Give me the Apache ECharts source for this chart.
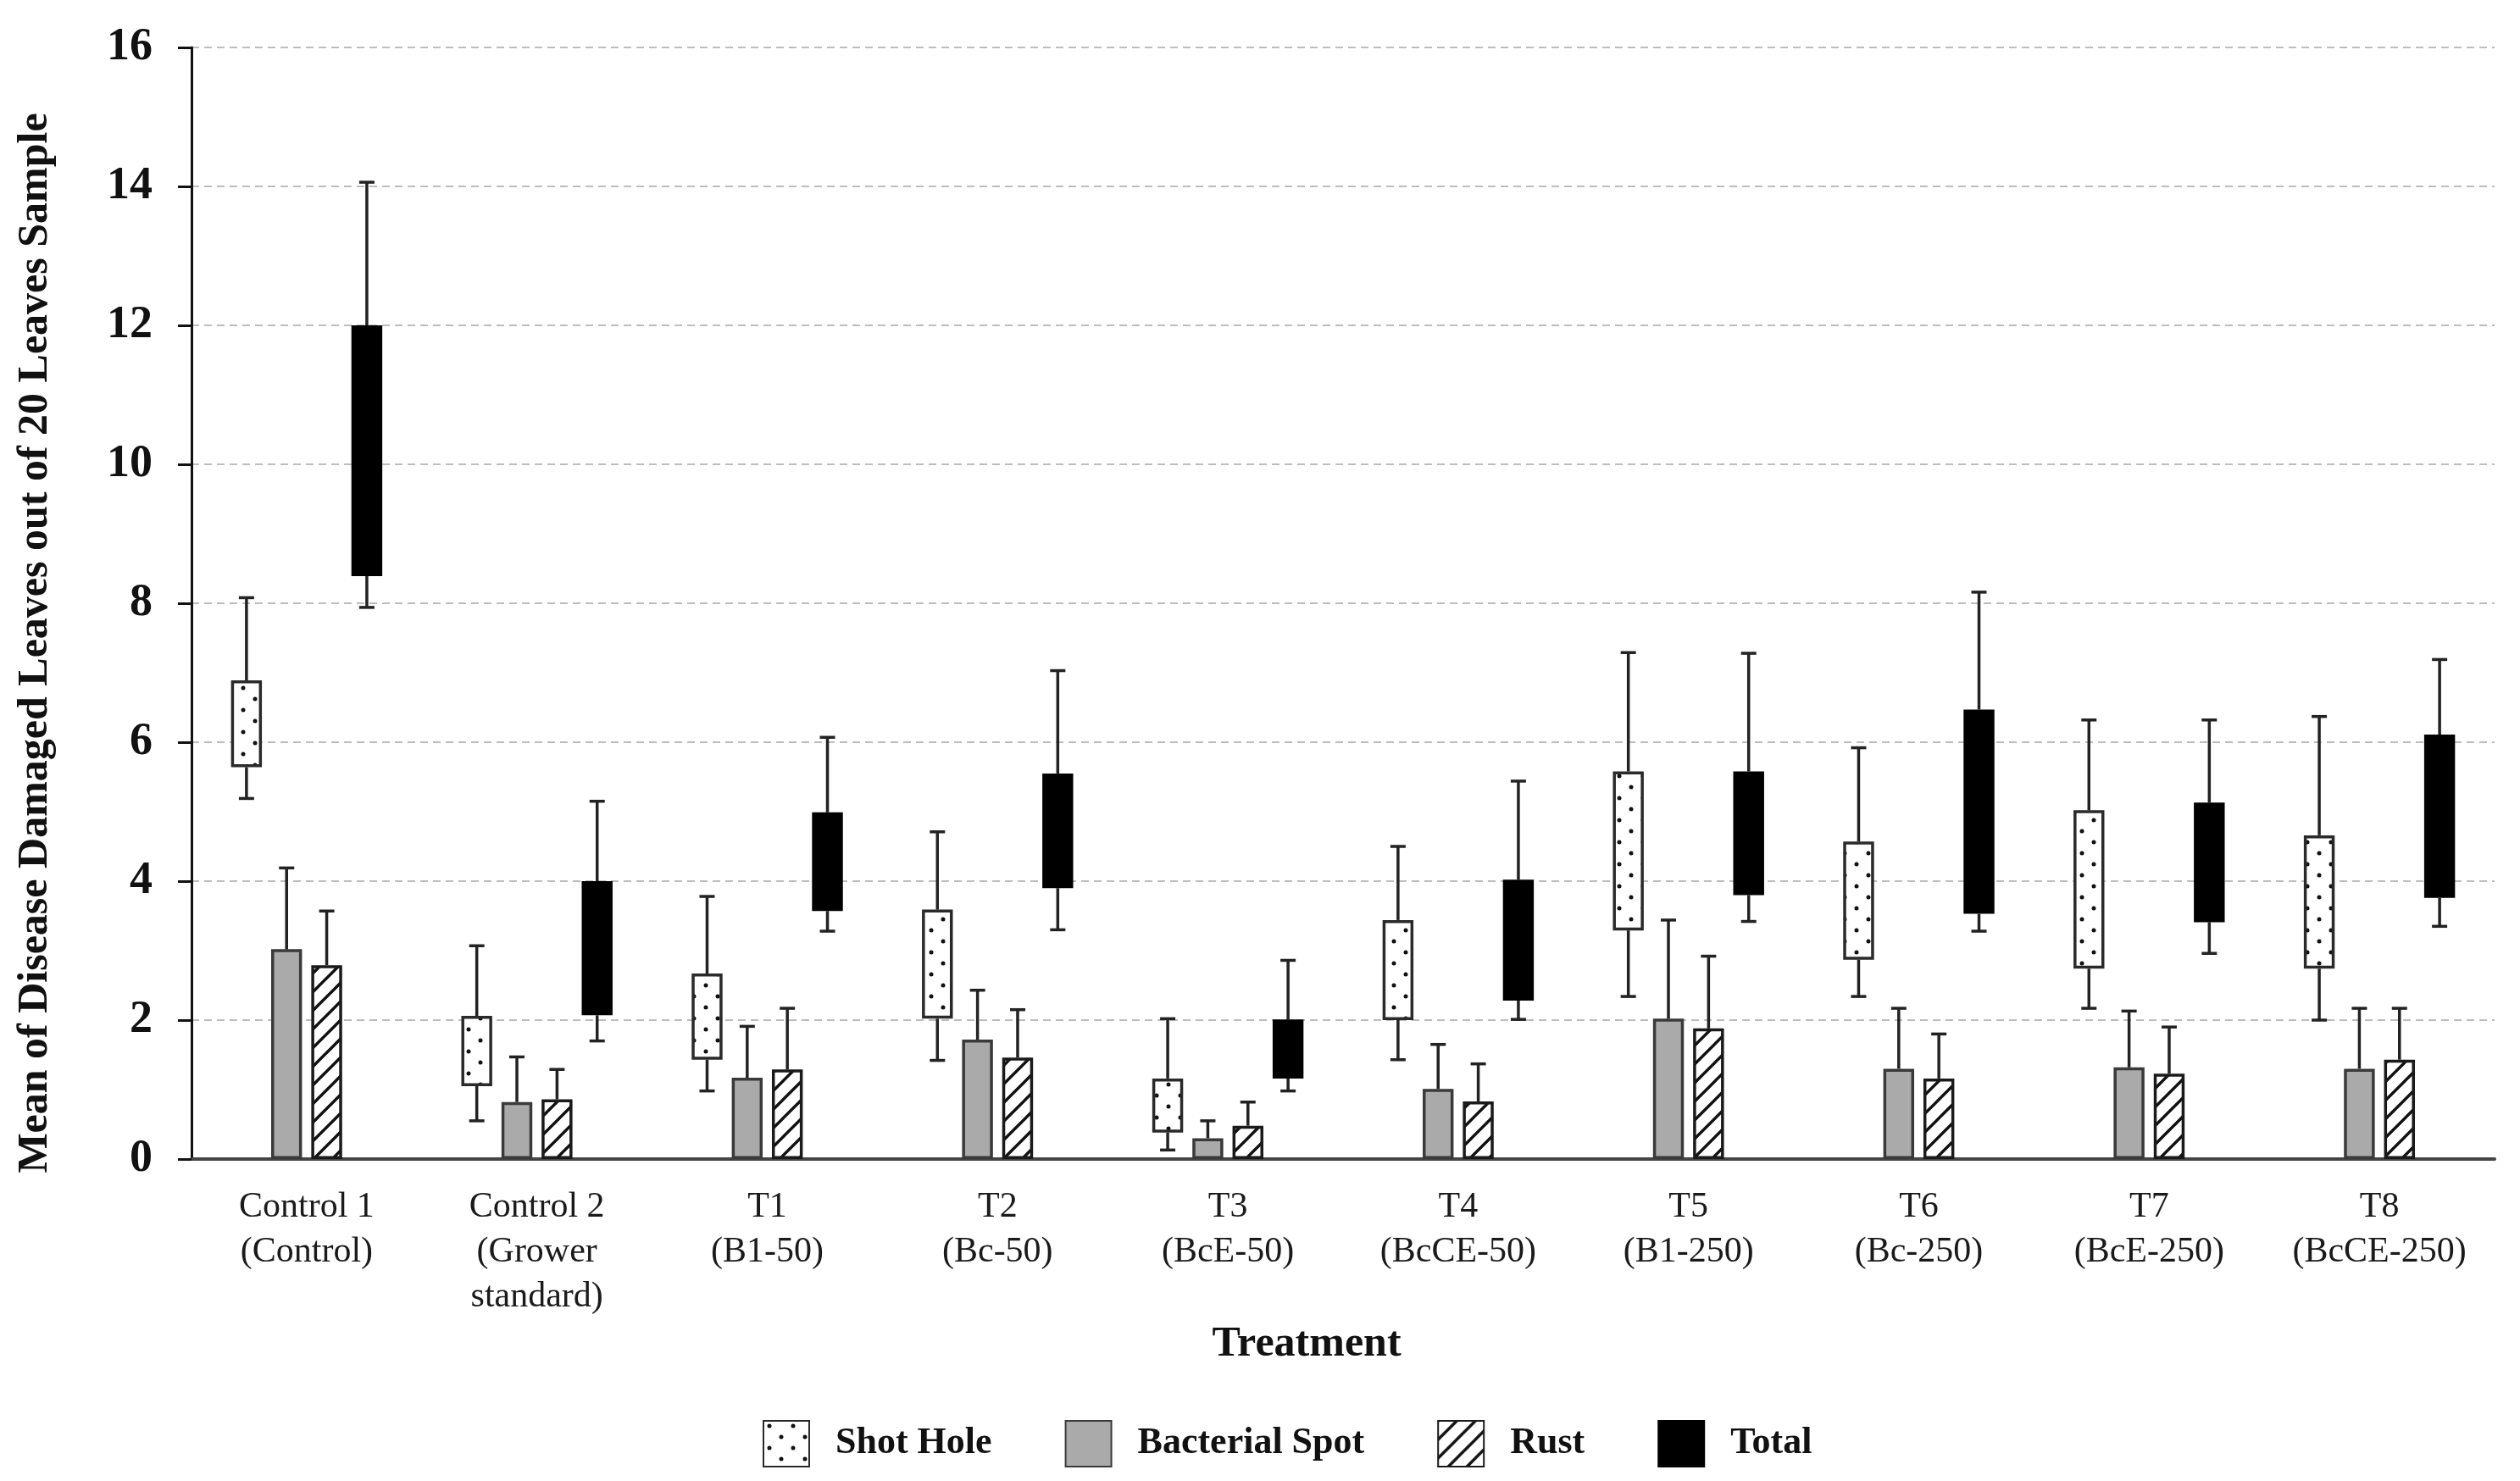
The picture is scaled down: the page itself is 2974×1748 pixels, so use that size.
<!DOCTYPE html>
<html>
<head>
<meta charset="utf-8">
<script src="https://cdn.jsdelivr.net/npm/echarts@6/dist/echarts.min.js"></script>
<style>
html,body{margin:0;padding:0;background:#fff;}
#chart{width:2974px;height:1748px;}
</style>
</head>
<body>
<div id="chart"></div>
<script>
var categories = ['Control 1\n(Control)', 'Control 2\n(Grower\nstandard)', 'T1\n(B1-50)', 'T2\n(Bc-50)', 'T3\n(BcE-50)', 'T4\n(BcCE-50)', 'T5\n(B1-250)', 'T6\n(Bc-250)', 'T7\n(BcE-250)', 'T8\n(BcCE-250)'];
var yTicks = [0, 2, 4, 6, 8, 10, 12, 14, 16];

var shotLow = [5.64, 1.05, 1.43, 2.02, 0.38, 2.00, 3.29, 2.87, 2.74, 2.74];
var shotHigh = [6.89, 2.06, 2.67, 3.59, 1.16, 3.44, 5.58, 4.57, 5.02, 4.66];
var shotWhiskerLow = [5.19, 0.55, 0.98, 1.42, 0.13, 1.43, 2.34, 2.34, 2.17, 2.00];
var shotWhiskerHigh = [8.08, 3.07, 3.78, 4.71, 2.02, 4.50, 7.29, 5.92, 6.32, 6.37];

var bact = [3.02, 0.82, 1.17, 1.72, 0.30, 1.01, 2.02, 1.30, 1.32, 1.30];
var bactWhiskerHigh = [4.19, 1.47, 1.91, 2.43, 0.55, 1.65, 3.44, 2.17, 2.13, 2.17];

var rust = [2.79, 0.86, 1.29, 1.46, 0.48, 0.83, 1.88, 1.16, 1.23, 1.43];
var rustWhiskerHigh = [3.57, 1.29, 2.17, 2.15, 0.82, 1.37, 2.92, 1.80, 1.90, 2.17];

var totalLow = [8.39, 2.07, 3.57, 3.90, 1.16, 2.28, 3.80, 3.53, 3.41, 3.76];
var totalHigh = [12.00, 4.00, 4.99, 5.55, 2.01, 4.02, 5.58, 6.47, 5.13, 6.11];
var totalWhiskerLow = [7.94, 1.70, 3.28, 3.30, 0.98, 2.01, 3.42, 3.28, 2.96, 3.35];
var totalWhiskerHigh = [14.06, 5.15, 6.07, 7.03, 2.86, 5.44, 7.28, 8.16, 6.32, 7.19];

var FONT = "'Liberation Serif', 'Times New Roman', serif";
var BAR_W_RATIO = 0.134;
var BAR_GAP_RATIO = 0.30;
var NCOL = 4;

function makeDots() {
  var c = document.createElement('canvas');
  c.width = 28; c.height = 26;
  var g = c.getContext('2d');
  g.fillStyle = '#ffffff'; g.fillRect(0, 0, 28, 26);
  g.fillStyle = '#111111';
  g.beginPath(); g.arc(7, 6, 2.5, 0, Math.PI * 2); g.fill();
  g.beginPath(); g.arc(21, 19, 2.5, 0, Math.PI * 2); g.fill();
  return c;
}
function makeHatch() {
  var s = 22;
  var c = document.createElement('canvas');
  c.width = s; c.height = s;
  var g = c.getContext('2d');
  g.fillStyle = '#ffffff'; g.fillRect(0, 0, s, s);
  g.strokeStyle = '#111111'; g.lineWidth = 3.4;
  g.beginPath();
  g.moveTo(-2, s + 2); g.lineTo(s + 2, -2);
  g.moveTo(-s / 2 - 2, s / 2 + 2); g.lineTo(s / 2 + 2, -s / 2 - 2);
  g.moveTo(s / 2 - 2, s * 1.5 + 2); g.lineTo(s * 1.5 + 2, s / 2 - 2);
  g.stroke();
  return c;
}
var dotPattern = { image: makeDots(), repeat: 'repeat' };
var hatchPattern = { image: makeHatch(), repeat: 'repeat' };

function diff(a, b) { return a.map(function (v, i) { return +(v - b[i]).toFixed(3); }); }

function errorSeries(name, col, boxTop, upper, boxBottom, lower) {
  var data = categories.map(function (c, i) {
    return [i, boxTop[i], upper[i], boxBottom ? boxBottom[i] : boxTop[i], lower ? lower[i] : boxTop[i]];
  });
  return {
    name: name,
    type: 'custom',
    silent: true,
    z: 5,
    data: data,
    encode: { x: 0, y: [1, 2, 3, 4] },
    renderItem: function (params, api) {
      var ci = api.value(0);
      var band = api.size([1, 0])[0];
      var bw = band * BAR_W_RATIO;
      var gap = bw * BAR_GAP_RATIO;
      var off = (col - (NCOL - 1) / 2) * (bw + gap);
      var x = api.coord([ci, 0])[0] + off;
      var capHalf = 9;
      var yTop = api.coord([ci, api.value(1)])[1];
      var yUp = api.coord([ci, api.value(2)])[1];
      var yBot = api.coord([ci, api.value(3)])[1];
      var yLow = api.coord([ci, api.value(4)])[1];
      var st = { stroke: '#222222', lineWidth: 3.5 };
      var children = [
        { type: 'line', shape: { x1: x, y1: yTop, x2: x, y2: yUp }, style: st },
        { type: 'line', shape: { x1: x - capHalf, y1: yUp, x2: x + capHalf, y2: yUp }, style: st }
      ];
      if (yLow > yBot + 0.5) {
        children.push({ type: 'line', shape: { x1: x, y1: yBot, x2: x, y2: yLow }, style: st });
        children.push({ type: 'line', shape: { x1: x - capHalf, y1: yLow, x2: x + capHalf, y2: yLow }, style: st });
      }
      return { type: 'group', children: children };
    }
  };
}

var barCommon = {
  type: 'bar',
  barWidth: (BAR_W_RATIO * 100) + '%',
  barGap: (BAR_GAP_RATIO * 100) + '%',
  emphasis: { disabled: true }
};

var chart = echarts.init(document.getElementById('chart'), null, { renderer: 'canvas' });
var option = {
  backgroundColor: '#ffffff',
  animation: false,
  grid: { left: 226, right: 30, top: 56, bottom: 380, containLabel: false },
  legend: {
    data: ['Shot Hole', 'Bacterial Spot', 'Rust', 'Total'],
    left: 895,
    top: 1671,
    icon: 'rect',
    itemWidth: 54,
    itemHeight: 54,
    itemGap: 86,
    selectedMode: false,
    textStyle: { fontFamily: FONT, fontWeight: 'bold', fontSize: 44, color: '#111', padding: [0, 0, 0, 26] }
  },
  xAxis: {
    type: 'category',
    data: categories,
    name: 'Treatment',
    nameLocation: 'middle',
    nameGap: 190,
    nameTextStyle: { fontFamily: FONT, fontWeight: 'bold', fontSize: 50, color: '#111', padding: [0, 86, 0, 0] },
    axisLine: { lineStyle: { color: '#444', width: 4 } },
    axisTick: { show: false },
    axisLabel: { fontFamily: FONT, fontSize: 42, color: '#1a1a1a', lineHeight: 53, margin: 30, interval: 0 },
    splitLine: { show: false }
  },
  yAxis: {
    type: 'value',
    min: yTicks[0],
    max: yTicks[yTicks.length - 1],
    interval: yTicks[1] - yTicks[0],
    name: 'Mean of Disease Damaged Leaves out of 20 Leaves Sample',
    nameLocation: 'middle',
    nameGap: 159,
    nameTextStyle: { fontFamily: FONT, fontWeight: 'bold', fontSize: 50, color: '#111', padding: [0, 94, 0, 0] },
    axisLine: { show: true, lineStyle: { color: '#111', width: 3 } },
    axisTick: { show: true, length: 16, lineStyle: { color: '#111', width: 3 } },
    axisLabel: { fontFamily: FONT, fontWeight: 'bold', fontSize: 54, color: '#111', margin: 46 },
    splitLine: { show: true, lineStyle: { color: '#bdbdbd', width: 2, type: [9, 6] } }
  },
  series: [
    Object.assign({}, barCommon, {
      name: 'shotBase', stack: 'shot', silent: true, data: shotLow,
      itemStyle: { color: 'rgba(0,0,0,0)' }
    }),
    Object.assign({}, barCommon, {
      name: 'Shot Hole', stack: 'shot', data: diff(shotHigh, shotLow),
      itemStyle: { color: dotPattern, borderColor: '#2a2a2a', borderWidth: 3.5 }
    }),
    Object.assign({}, barCommon, {
      name: 'Bacterial Spot', data: bact,
      itemStyle: { color: '#aaaaaa', borderColor: '#3a3a3a', borderWidth: 3.5 }
    }),
    Object.assign({}, barCommon, {
      name: 'Rust', data: rust,
      itemStyle: { color: hatchPattern, borderColor: '#1a1a1a', borderWidth: 3.5 }
    }),
    Object.assign({}, barCommon, {
      name: 'totalBase', stack: 'total', silent: true, data: totalLow,
      itemStyle: { color: 'rgba(0,0,0,0)' }
    }),
    Object.assign({}, barCommon, {
      name: 'Total', stack: 'total', data: diff(totalHigh, totalLow),
      itemStyle: { color: '#000000', borderColor: '#000000', borderWidth: 2 }
    }),
    errorSeries('errShot', 0, shotHigh, shotWhiskerHigh, shotLow, shotWhiskerLow),
    errorSeries('errBact', 1, bact, bactWhiskerHigh, null, null),
    errorSeries('errRust', 2, rust, rustWhiskerHigh, null, null),
    errorSeries('errTotal', 3, totalHigh, totalWhiskerHigh, totalLow, totalWhiskerLow)
  ]
};
chart.setOption(option);
</script>
</body>
</html>
